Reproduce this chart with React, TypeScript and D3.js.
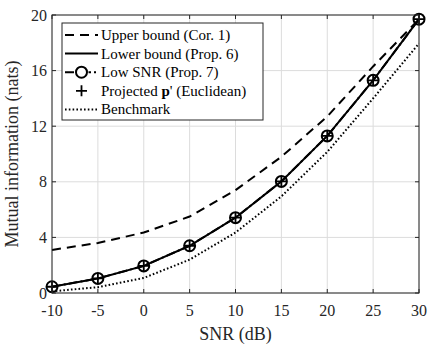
import React from "react";
import * as d3 from "d3";

// SNR (dB) grid
const snr = [-10, -5, 0, 5, 10, 15, 20, 25, 30];
const upperBound = [3.1, 3.6, 4.35, 5.5, 7.4, 9.8, 12.7, 16.3, 19.7];
const lowerBound = [0.45, 1.05, 1.95, 3.4, 5.42, 8.03, 11.3, 15.3, 19.7];
const lowSnr = [0.45, 1.05, 1.95, 3.4, 5.42, 8.03, 11.3, 15.3, 19.7];
const projected = [0.45, 1.05, 1.95, 3.4, 5.42, 8.03, 11.3, 15.3, 19.7];
const benchmark = [0.12, 0.42, 1.08, 2.4, 4.35, 6.95, 10.15, 14.0, 17.95];

const xTicks = [-10, -5, 0, 5, 10, 15, 20, 25, 30];
const yTicks = [0, 4, 8, 12, 16, 20];

const legendItems = [
  { label: "Upper bound (Cor. 1)", kind: "dashed" },
  { label: "Lower bound (Prop. 6)", kind: "solid" },
  { label: "Low SNR (Prop. 7)", kind: "lowsnr" },
  { label: "Projected p' (Euclidean)", kind: "plus" },
  { label: "Benchmark", kind: "dotted" },
];

const W = 436;
const H = 347;
const margin = { top: 15, right: 17, bottom: 54, left: 52 };
const font = "Liberation Serif, serif";
const ink = "#000";
const axisColor = "#262626";

const App = () => {
  const iw = W - margin.left - margin.right;
  const ih = H - margin.top - margin.bottom;

  const x = d3.scaleLinear().domain([-10, 30]).range([0, iw]);
  const y = d3.scaleLinear().domain([0, 20]).range([ih, 0]);

  const line = (vals: number[]) =>
    d3
      .line<number>()
      .x((_, i) => x(snr[i]))
      .y((v) => y(v))(vals) as string;

  const circle = (cx: number, cy: number, key: string) => (
    <circle key={key} cx={cx} cy={cy} r={5.5} fill="none" stroke={ink} strokeWidth={2} />
  );
  const plus = (cx: number, cy: number, key: string) => (
    <path
      key={key}
      d={`M${cx - 5.5},${cy}H${cx + 5.5}M${cx},${cy - 5.5}V${cy + 5.5}`}
      stroke={ink}
      strokeWidth={1.8}
      fill="none"
    />
  );

  return (
    <svg
      width={W}
      height={H}
      style={{ position: "absolute", left: 0, top: 0, background: "#fff", fontFamily: font }}
    >
      <rect width={W} height={H} fill="#fff" />
      <g transform={`translate(${margin.left},${margin.top})`}>
        {/* grid */}
        {xTicks.map((t) => (
          <line key={"gx" + t} x1={x(t)} x2={x(t)} y1={0} y2={ih} stroke="#dcdcdc" strokeWidth={1} />
        ))}
        {yTicks.map((t) => (
          <line key={"gy" + t} x1={0} x2={iw} y1={y(t)} y2={y(t)} stroke="#dcdcdc" strokeWidth={1} />
        ))}

        {/* curves */}
        <path d={line(benchmark)} fill="none" stroke={ink} strokeWidth={2} strokeDasharray="1.6,2.2" />
        <path d={line(upperBound)} fill="none" stroke={ink} strokeWidth={2} strokeDasharray="9,6" />
        <path d={line(lowerBound)} fill="none" stroke={ink} strokeWidth={2} />
        <path d={line(lowSnr)} fill="none" stroke={ink} strokeWidth={2} strokeDasharray="9,3,2,3" />
        {lowSnr.map((v, i) => circle(x(snr[i]), y(v), "c" + i))}
        {projected.map((v, i) => plus(x(snr[i]), y(v), "p" + i))}

        {/* box and ticks */}
        <rect x={0} y={0} width={iw} height={ih} fill="none" stroke={axisColor} strokeWidth={1} />
        {xTicks.map((t) => (
          <g key={"tx" + t}>
            <line x1={x(t)} x2={x(t)} y1={ih} y2={ih - 4} stroke={axisColor} />
            <line x1={x(t)} x2={x(t)} y1={0} y2={4} stroke={axisColor} />
            <text x={x(t)} y={ih + 23} textAnchor="middle" fontSize={16} fill={axisColor}>
              {t}
            </text>
          </g>
        ))}
        {yTicks.map((t) => (
          <g key={"ty" + t}>
            <line x1={0} x2={4} y1={y(t)} y2={y(t)} stroke={axisColor} />
            <line x1={iw} x2={iw - 4} y1={y(t)} y2={y(t)} stroke={axisColor} />
            <text x={-5} y={y(t) + 5.5} textAnchor="end" fontSize={16} fill={axisColor}>
              {t}
            </text>
          </g>
        ))}

        {/* axis labels */}
        <text x={iw / 2} y={ih + 47} textAnchor="middle" fontSize={18} fill={axisColor}>
          SNR (dB)
        </text>
        <text
          transform={`translate(${-34},${ih / 2}) rotate(-90)`}
          textAnchor="middle"
          fontSize={18}
          fill={axisColor}
        >
          Mutual information (nats)
        </text>

        {/* legend */}
        <g transform="translate(10,8)">
          <rect x={0} y={0} width={201} height={97} fill="#fff" stroke={axisColor} strokeWidth={1} />
          {legendItems.map((it, i) => {
            const ly = 12 + i * 18.6;
            const x1 = 3;
            const x2 = 36;
            const mid = (x1 + x2) / 2;
            return (
              <g key={it.kind}>
                {it.kind === "dashed" && (
                  <line x1={x1} x2={x2} y1={ly} y2={ly} stroke={ink} strokeWidth={2} strokeDasharray="9,6" />
                )}
                {it.kind === "solid" && <line x1={x1} x2={x2} y1={ly} y2={ly} stroke={ink} strokeWidth={2} />}
                {it.kind === "lowsnr" && (
                  <g>
                    <line x1={x1} x2={x2} y1={ly} y2={ly} stroke={ink} strokeWidth={2} strokeDasharray="9,3,2,3" />
                    <rect x={mid - 7} y={ly - 7} width={14} height={14} fill="#fff" />
                    {circle(mid, ly, "lc")}
                  </g>
                )}
                {it.kind === "plus" && plus(mid, ly, "lp")}
                {it.kind === "dotted" && (
                  <line x1={x1} x2={x2} y1={ly} y2={ly} stroke={ink} strokeWidth={2} strokeDasharray="1.6,2.2" />
                )}
                <text x={39} y={ly + 5} fontSize={15} fill={ink}>
                  {it.kind === "plus" ? (
                    <>
                      Projected <tspan fontWeight="bold">p</tspan>' (Euclidean)
                    </>
                  ) : (
                    it.label
                  )}
                </text>
              </g>
            );
          })}
        </g>
      </g>
    </svg>
  );
};

export default App;
